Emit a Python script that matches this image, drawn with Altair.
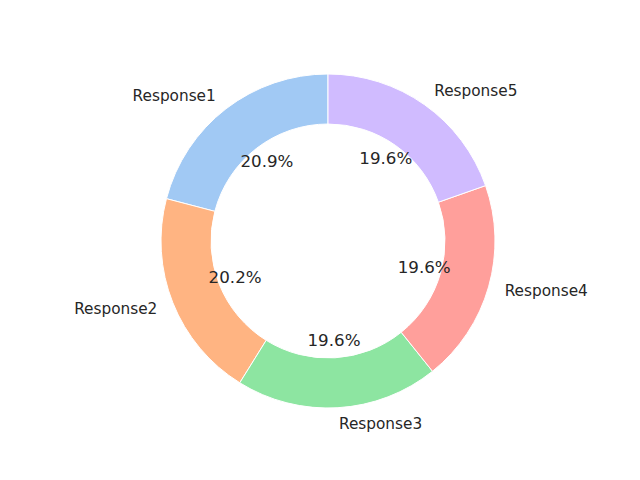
import altair as alt
import pandas as pd

categories = ["Response1", "Response2", "Response3", "Response4", "Response5"]
values = [20.9, 20.2, 19.6, 19.6, 19.6]
colors = ["#a1c9f4", "#ffb482", "#8de5a1", "#ff9f9b", "#d0bbff"]

df = pd.DataFrame({"cat": categories, "value": values, "idx": list(range(len(categories)))})

CX, CY = 320, 233
R_OUT, R_IN = 167, 117
FONT = "DejaVu Sans"
FS_LAB = 15.3
FS_PCT = 16.7
TXT = "#262626"

base = alt.Chart(df).transform_joinaggregate(
    total="sum(value)"
).transform_window(
    cum="sum(value)", sort=[alt.SortField("idx", order="ascending")]
).transform_calculate(
    mid="(datum.cum - datum.value/2) / datum.total",
    xs="-sin(2*PI*datum.mid)",
    pct="format(datum.value / datum.total * 100, '.1f') + '%'",
    lab_left="datum.xs < 0 ? datum.cat : ''",
    lab_right="datum.xs >= 0 ? datum.cat : ''",
).encode(
    theta=alt.Theta("value:Q", stack=True),
    order=alt.Order("idx:Q", sort="descending"),
    x=alt.value(CX),
    y=alt.value(CY),
)

arcs = base.mark_arc(outerRadius=R_OUT, innerRadius=R_IN, stroke="white", strokeWidth=1).encode(
    color=alt.Color("cat:N", scale=alt.Scale(domain=categories, range=colors), legend=None)
)

pct = base.mark_text(radius=100, font=FONT, fontSize=FS_PCT, color=TXT, align="center", baseline="middle").encode(
    text="pct:N"
)
lab_l = base.mark_text(radius=R_OUT * 1.1, font=FONT, fontSize=FS_LAB, color=TXT, align="right", baseline="middle").encode(
    text="lab_left:N"
)
lab_r = base.mark_text(radius=R_OUT * 1.1, font=FONT, fontSize=FS_LAB, color=TXT, align="left", baseline="middle").encode(
    text="lab_right:N"
)

chart = alt.layer(arcs, pct, lab_l, lab_r).properties(
    width=624, height=464, autosize=alt.AutoSizeParams(type="none"), padding=0,
    background="white"
).configure_view(stroke=None, strokeWidth=0)

chart.save("out.html", embed_options={"renderer": "svg", "actions": False})
